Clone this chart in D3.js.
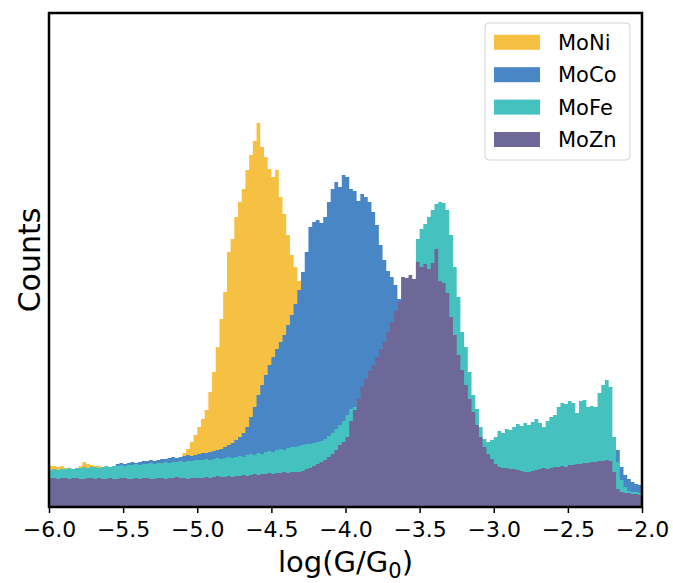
<!DOCTYPE html>
<html>
<head>
<meta charset="utf-8">
<script src="https://cdn.jsdelivr.net/npm/d3@7"></script>
<style>
body { margin: 0; background: #fff; }
text { font-family: "DejaVu Sans", sans-serif; }
</style>
</head>
<body>
<div id="chart"></div>
<script>
// histogram bins: log(G/G0) from -6 to -2, 0.025 wide
var binStart = -6;
var binWidth = 0.025;

var seriesNames = ["MoNi", "MoCo", "MoFe", "MoZn"];
var seriesColors = ["#f6c142", "#4886c6", "#45c1c0", "#6e6899"];

var moNi = [41,41,40,41,
    39,38,38,38,41,45,43,42,41,41,
    40,40,40,41,40,41,41,41,42,42,42,43,43,44,44,44,45,46,46,47,47,48,
    54,58,65,72,80,88,97,115,135,160,188,215,255,268,290,305,318,337,352,366,384,360,350,338,330,337,310,293,272,252,240,226,205,
    190,175,160,146,132,120,108,97,87,78,70,63,57,52,48,45,43,41,40,39,38,
    37,36,36,35,35,34,34,33,33,32, 32,31,31,30,30,30,29,29,29,28,
    28,28,27,27,27,26,26,26,26,25, 25,25,25,24,24,24,24,23,23,23,
    23,23,22,22,22,22,22,21,21,21, 21,21,20,20,20,20,20,19,19,19, 19,19,
    18,14,12,11,10,10,9,9];

var moCo = [37,37,37,38,37,38,38,38,39,39,39,39,40,39,40,40,40,41,
    43,44,43,44,45,44,45,46,46,47,46,47,48,48,49,50,49,50,51,52,51,52,53,
    54,54,55,56,57,58,
    60,62,64,67,70,74,80,90,100,112,122,132,142,150,158,165,172,182,192,203,217,235,255,280,
    285,287,284,290,305,318,325,320,332,330,318,316,306,313,310,305,295,282,262,247,236,230,222,208,
    200,190,180,170,160,150,140,130,120,112,104,96,88,80,74,68,63,59,56,53,51,49,48,47,46,
    46,46,47,47,47,48,48,48,49,49, 49,50,50,50,51,51,51,52,52,52,
    53,53,53,54,54,54,55,55,55,56, 56,56,
    58,57,40,32,28,25,23,22];

var moFe = [37,38,37,38,38,39,38,39,39,40,39,40,40,39,40,41,40,41,41,42,41,42,42,43,42,43,43,44,43,44,44,45,44,45,45,46,45,46,46,47,47,
    47,48,47,48,49,48,49,50,49,50,51,50,52,53,52,54,53,55,56,55,57,58,57,59,60,60,
    61,62,63,63,64,65,66,68,71,74,78,82,86,92,
    98,100,106,115,124,132,138,145,152,160,170,180,190,200,212,220,225,228,
    268,278,283,290,297,303,305,304,297,272,240,210,175,160,135,112,98,80,68,65,
    67,70,76,74,78,77,80,83,81,84,82,85,88,84,80,86,90,92,100,104,103,106,104,94,106,107,100,101,100,114,122,127,120,
    70,45,27,20,16,15,15,14];

var moZn = [29,29,28,29,29,28,29,29,28,28,29,29,28,29,28,28,29,28,28,29,29,28,28,29,28,29,29,28,28,29,29,28,29,29,30,29,29,28,29,29,29,
    29,30,29,30,31,30,30,31,30,31,31,32,31,32,33,32,33,33,34,33,34,34,35,34,35,35,
    35,36,38,39,41,43,45,47,50,53,57,62,65,70,86,97,108,120,128,136,142,150,158,165,175,185,196,205,
    230,229,232,228,245,240,243,238,244,258,226,224,214,190,172,152,137,122,108,95,82,70,60,53,48,43,40,39,
    39,38,38,37,36,35,35,36,37,38,39,38,39,40,40,41,40,42,42,43,
    43,44,44,45,45,46,46,47,46,35,18,15,14,14,13,13,12];

var seriesValues = [moNi, moCo, moFe, moZn];
var xTicks = [-6.0, -5.5, -5.0, -4.5, -4.0, -3.5, -3.0, -2.5, -2.0];
var xDomain = [-6, -2];
var countMax = 494;

var fullWidth = 673;
var fullHeight = 583;
var margin = {top: 13, right: 31, bottom: 76, left: 49};
var width = fullWidth - margin.left - margin.right;
var height = fullHeight - margin.top - margin.bottom;

var svg = d3.select("#chart")
    .append("svg")
    .attr("width", fullWidth)
    .attr("height", fullHeight);

var g = svg.append("g")
    .attr("transform", "translate(" + margin.left + "," + margin.top + ")");

var xScale = d3.scaleLinear().domain(xDomain).range([0, width]);
var yScale = d3.scaleLinear().domain([0, countMax]).range([height, 0]);

function toSteps(vals) {
    var pts = vals.map(function(v, i) { return {x: binStart + i * binWidth, y: v}; });
    pts.push({x: binStart + vals.length * binWidth, y: vals[vals.length - 1]});
    return pts;
}

var area = d3.area()
    .curve(d3.curveStepAfter)
    .x(function(d) { return xScale(d.x); })
    .y0(height)
    .y1(function(d) { return yScale(d.y); });

g.append("g")
    .attr("class", "hists")
    .selectAll("path")
    .data(seriesValues)
    .enter()
    .append("path")
    .attr("d", function(d) { return area(toSteps(d)); })
    .attr("fill", function(d, i) { return seriesColors[i]; });

var xAxis = d3.axisBottom(xScale)
    .tickValues(xTicks)
    .tickFormat(d3.format(".1f"))
    .tickSize(6)
    .tickPadding(8);

var xg = g.append("g")
    .attr("class", "x-axis")
    .attr("transform", "translate(0," + height + ")")
    .call(xAxis);
xg.select(".domain").remove();
xg.selectAll("line").attr("stroke", "#000").attr("stroke-width", 1.5);
xg.selectAll("text")
    .style("font-size", "22px")
    .style("font-family", "DejaVu Sans, sans-serif")
    .attr("fill", "#000");

// frame
g.append("rect")
    .attr("x", 0)
    .attr("y", 0)
    .attr("width", width)
    .attr("height", height)
    .attr("fill", "none")
    .attr("stroke", "#000")
    .attr("stroke-width", 2.5);

// axis titles
var xTitle = svg.append("text")
    .attr("x", margin.left + width / 2)
    .attr("y", 572)
    .style("text-anchor", "middle")
    .style("font-size", "29px")
    .text("log(G/G");
xTitle.append("tspan")
    .attr("dy", "6")
    .style("font-size", "21px")
    .text("0");
xTitle.append("tspan")
    .attr("dy", "-6")
    .text(")");

svg.append("text")
    .attr("transform", "translate(40," + (margin.top + height / 2) + ") rotate(-90)")
    .style("text-anchor", "middle")
    .style("font-size", "30px")
    .text("Counts");

// legend
var legend = svg.append("g").attr("class", "legend");
legend.append("rect")
    .attr("x", 485)
    .attr("y", 23)
    .attr("width", 145)
    .attr("height", 137)
    .attr("rx", 4)
    .attr("fill", "#fff")
    .attr("fill-opacity", 0.85)
    .attr("stroke", "#d4d4d4")
    .attr("stroke-width", 1);

var items = legend.selectAll("g.item")
    .data(seriesNames)
    .enter()
    .append("g")
    .attr("class", "item")
    .attr("transform", function(d, i) { return "translate(0," + (42.3 + i * 32.4) + ")"; });

items.append("rect")
    .attr("x", 494)
    .attr("y", -7.5)
    .attr("width", 46)
    .attr("height", 15)
    .attr("fill", function(d, i) { return seriesColors[i]; });

items.append("text")
    .attr("x", 558)
    .attr("y", 7.5)
    .style("font-size", "21px")
    .text(function(d) { return d; });
</script>
</body>
</html>
